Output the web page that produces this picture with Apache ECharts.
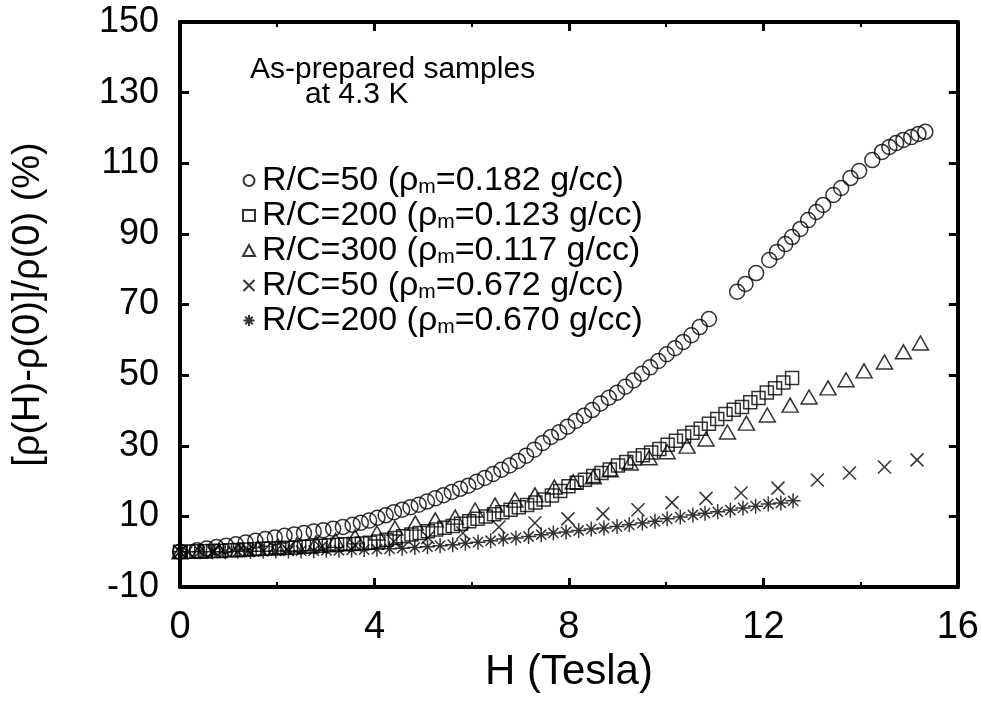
<!DOCTYPE html>
<html><head><meta charset="utf-8">
<script src="https://cdn.jsdelivr.net/npm/echarts@6/dist/echarts.min.js"></script>
<style>html,body{margin:0;padding:0;background:#fff}#c{width:982px;height:707px}</style>
</head><body><div id="c"></div>
<script>
// H (Tesla), [rho(H)-rho(0)]/rho(0) (%)
const rc50Low = [[0,0],[0.35,0.4],[0.55,0.9],[0.75,1.3],[0.95,1.7],[1.15,2.1],[1.35,2.6],[1.55,3.1],[1.75,3.6],[1.95,4.0],[2.15,4.5],[2.35,4.9],[2.55,5.3],[2.75,5.7],[2.95,6.1],[3.15,6.5],[3.35,7.0],[3.55,7.6],[3.72,8.2],[3.89,8.8],[4.06,9.6],[4.23,10.3],[4.40,11.2],[4.57,11.9],[4.74,12.6],[4.91,13.3],[5.08,14.2],[5.25,15.1],[5.42,16.0],[5.59,16.9],[5.76,17.8],[5.93,18.7],[6.10,19.8],[6.27,20.9],[6.44,22.0],[6.61,23.2],[6.78,24.4],[6.95,25.7],[7.12,27.2],[7.29,28.9],[7.46,30.8],[7.63,32.5],[7.80,33.8],[7.97,35.4],[8.14,37.0],[8.31,38.5],[8.48,40.1],[8.65,42.0],[8.82,43.6],[8.99,45.0],[9.16,46.7],[9.33,48.5],[9.50,50.4],[9.67,52.2],[9.84,54.0],[10.01,55.9],[10.18,57.6],[10.35,59.4],[10.52,61.3],[10.69,63.6],[10.88,65.9],[11.46,73.6],[11.63,75.8],[11.85,78.9],[12.12,82.6],[12.28,84.9],[12.45,87.1],[12.59,89.1],[12.76,91.4],[12.92,93.9],[13.09,96.2],[13.23,98.2],[13.44,101.0],[13.60,103.0],[13.79,105.8],[13.97,107.8],[14.24,110.9],[14.44,113.2],[14.59,114.6],[14.73,115.7],[14.88,116.6],[15.04,117.4],[15.19,118.3],[15.33,118.9]];
const rc200Low = [[0,0],[0.17,0],[0.34,0.1],[0.51,0.1],[0.68,0.2],[0.85,0.3],[1.02,0.4],[1.19,0.5],[1.36,0.6],[1.53,0.7],[1.70,0.8],[1.87,0.9],[2.04,1.0],[2.21,1.1],[2.38,1.2],[2.55,1.4],[2.72,1.5],[2.89,1.7],[3.06,1.8],[3.23,2.0],[3.40,2.1],[3.57,2.2],[3.74,2.3],[3.91,2.5],[4.08,2.9],[4.25,3.4],[4.42,3.9],[4.59,4.4],[4.76,4.9],[4.93,5.3],[5.10,5.8],[5.27,6.3],[5.44,6.8],[5.61,7.3],[5.78,7.9],[5.95,8.6],[6.12,9.3],[6.29,10.0],[6.46,10.6],[6.63,11.2],[6.80,11.9],[6.97,12.6],[7.14,13.2],[7.31,13.9],[7.48,14.8],[7.65,15.9],[7.82,17.2],[7.99,18.5],[8.16,19.5],[8.33,20.4],[8.50,21.4],[8.67,22.3],[8.84,23.3],[9.01,24.4],[9.18,25.4],[9.35,26.4],[9.52,27.3],[9.69,28.1],[9.86,29.1],[10.03,30.3],[10.20,31.4],[10.37,32.6],[10.54,33.7],[10.71,34.8],[10.88,36.2],[11.05,37.6],[11.22,39.0],[11.39,40.2],[11.56,41.0],[11.73,42.3],[11.90,43.5],[12.07,45.1],[12.24,46.3],[12.41,47.9],[12.59,49.2]];
const rc300Low = [[0,0],[0.4,0.1],[0.8,0.3],[1.2,0.6],[1.6,1.0],[2.0,1.4],[2.4,1.9],[2.8,2.5],[3.2,3.2],[3.6,4.2],[4.05,5.3],[4.42,6.7],[4.84,8.1],[5.25,9.0],[5.66,9.8],[6.07,11.8],[6.48,13.2],[6.89,14.6],[7.30,16.1],[7.70,18.3],[8.09,19.8],[8.50,21.2],[8.85,23.2],[9.26,25.1],[9.65,26.6],[10.02,28.3],[10.43,29.9],[10.82,31.9],[11.26,33.9],[11.65,36.4],[12.08,38.7],[12.55,41.5],[12.94,43.8],[13.33,46.4],[13.70,48.7],[14.07,51.2],[14.49,53.7],[14.88,56.6],[15.23,59.1]];
const rc50High = [[0,0],[0.7,0.1],[1.4,0.3],[2.2,0.7],[2.9,1.2],[3.6,1.9],[4.4,2.9],[5.1,4.0],[5.82,5.3],[6.56,7.0],[7.30,8.1],[7.98,9.3],[8.70,10.7],[9.42,11.9],[10.12,13.9],[10.82,15.1],[11.54,16.6],[12.30,18.0],[13.11,20.3],[13.77,22.3],[14.49,24.0],[15.16,26.0]];
const rc200High = [[0,0],[0.15,0],[0.41,0],[0.67,0],[0.93,0],[1.19,0.1],[1.45,0.1],[1.71,0.1],[1.97,0.2],[2.23,0.2],[2.49,0.3],[2.75,0.3],[3.01,0.4],[3.27,0.4],[3.53,0.5],[3.79,0.6],[4.05,0.7],[4.31,0.8],[4.57,1.0],[4.83,1.2],[5.09,1.4],[5.35,1.7],[5.61,2.0],[5.87,2.4],[6.13,2.7],[6.39,3.1],[6.65,3.6],[6.91,3.9],[7.17,4.3],[7.43,4.8],[7.68,5.3],[7.94,5.6],[8.20,6.0],[8.46,6.4],[8.72,6.7],[8.99,7.1],[9.24,7.6],[9.51,8.1],[9.77,8.6],[10.02,9.3],[10.29,9.8],[10.55,10.4],[10.80,10.9],[11.06,11.3],[11.32,11.8],[11.58,12.4],[11.84,12.9],[12.10,13.5],[12.36,13.8],[12.61,14.4]];

const seriesNames = ['R/C=50 (ρ{m|m}=0.182 g/cc)','R/C=200 (ρ{m|m}=0.123 g/cc)','R/C=300 (ρ{m|m}=0.117 g/cc)','R/C=50 (ρ{m|m}=0.672 g/cc)','R/C=200 (ρ{m|m}=0.670 g/cc)'];
const seriesData = [rc50Low, rc200Low, rc300Low, rc50High, rc200High];
const xTicks = {min:0, max:16, interval:4};
const yTicks = {min:-10, max:150, interval:20};

const FONT = 'Liberation Sans, Arial, Helvetica, sans-serif';
const crossPath = 'path://M0,0L10,10M10,0L0,10';
const starPath = 'path://M5,0L5,10M0,5L10,5M1.6,1.6L8.4,8.4M8.4,1.6L1.6,8.4M4.3,5L5.7,5M5,4.3L5,5.7';
const symbols = ['circle','rect','triangle',crossPath,starPath];
const sizes = [15,13,[16,14],13,15];

const chart = echarts.init(document.getElementById('c'), null, {renderer:'canvas'});
const axisCommon = {
  type:'value', splitLine:{show:false},
  axisLine:{show:true, onZero:false, lineStyle:{color:'#000', width:4}},
  axisTick:{show:true, inside:true, length:9, lineStyle:{color:'#000', width:3}}
};
const option = {
  backgroundColor:'#fff',
  animation:false,
  grid:{left:180, right:24, top:22, bottom:120},
  xAxis:[
    Object.assign({}, axisCommon, xTicks, {position:'bottom',
      minorTick:{show:true, splitNumber:2, length:5, lineStyle:{color:'#000', width:2}},
      axisLabel:{color:'#000', fontSize:38, fontFamily:FONT, margin:22},
      name:'H (Tesla)', nameLocation:'middle', nameGap:59,
      nameTextStyle:{color:'#000', fontSize:42, fontFamily:FONT}}),
    Object.assign({}, axisCommon, xTicks, {position:'top',
      minorTick:{show:true, splitNumber:2, length:5, lineStyle:{color:'#000', width:2}},
      axisLabel:{show:false}})
  ],
  yAxis:[
    Object.assign({}, axisCommon, yTicks, {position:'left',
      axisLabel:{color:'#000', fontSize:36, fontFamily:FONT, margin:21},
      name:'[ρ(H)-ρ(0)]/ρ(0) (%)', nameLocation:'middle', nameGap:132, nameRotate:90,
      nameTextStyle:{color:'#000', fontSize:38, fontFamily:FONT}}),
    Object.assign({}, axisCommon, yTicks, {position:'right', axisLabel:{show:false}})
  ],
  legend:{
    orient:'vertical', left:237, top:158, itemGap:0, itemWidth:12, itemHeight:11,
    selectedMode:false,
    data: seriesNames.map((n,i)=>({name:n, icon:symbols[i]})),
    formatter: function(n){ return n; },
    textStyle:{color:'#000', fontSize:34, fontFamily:FONT, lineHeight:35, padding:[0,0,0,2],
      rich:{m:{fontSize:21, fontFamily:FONT, color:'#000', verticalAlign:'bottom', lineHeight:13}}}
  },
  graphic:[
    {type:'text', left:250, top:55, style:{text:'As-prepared samples', fill:'#000', font:'30px '+FONT}},
    {type:'text', left:305, top:80, style:{text:'at 4.3 K', fill:'#000', font:'30px '+FONT}}
  ],
  series: seriesData.map((d,i)=>({
    type:'scatter', name:seriesNames[i], data:d, symbol:symbols[i], symbolSize:sizes[i],
    xAxisIndex:0, yAxisIndex:0,
    itemStyle:{color:'rgba(0,0,0,0)', borderColor:'#000', borderWidth:1.5}
  }))
};
chart.setOption(option);
</script></body></html>
